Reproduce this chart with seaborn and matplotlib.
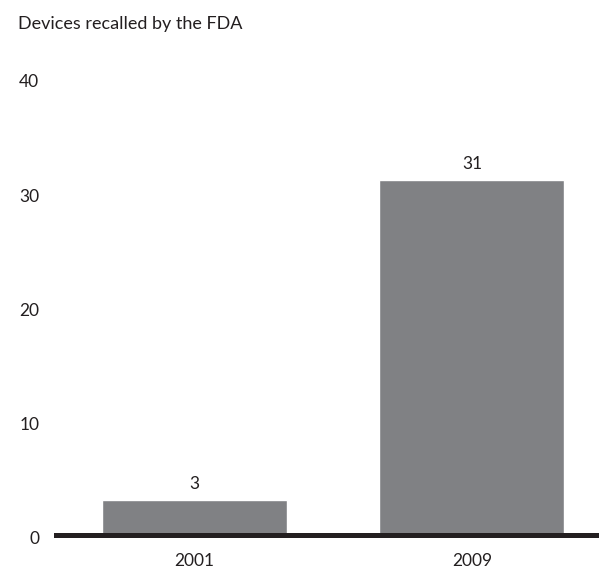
import matplotlib
matplotlib.use("Agg")
import matplotlib.pyplot as plt
import matplotlib.transforms as mtransforms
import seaborn as sns
import pandas as pd

years = ["2001", "2009"]
recalls = [3, 31]
y_ticks = [0, 10, 20, 30, 40]
title = "Devices recalled by the FDA"

bar_color = "#808184"
ink = "#231f20"

sns.set_theme(style="white")
plt.rcParams["font.family"] = ["Lato", "DejaVu Sans"]

df = pd.DataFrame({"year": years, "recalls": recalls})

fig = plt.figure(figsize=(5.99, 5.71), dpi=100)
ax = fig.add_axes([56 / 599, (571 - 534.5) / 571, 1 - 56 / 599, (534.5 - 77.5) / 571])

sns.barplot(data=df, x="year", y="recalls", color=bar_color, width=0.667,
            saturation=1, ax=ax, zorder=2)

ax.set_xlim(-0.499, 1.458)
ax.set_ylim(0, 40)
ax.set_yticks(y_ticks)
ax.set_yticklabels([str(t) for t in y_ticks])
ax.set_xlabel("")
ax.set_ylabel("")

for side in ["left", "right", "top"]:
    ax.spines[side].set_visible(False)
ax.spines["bottom"].set_color(ink)
ax.spines["bottom"].set_linewidth(3.6)
ax.spines["bottom"].set_zorder(3)

ax.tick_params(axis="y", length=0, pad=12, labelsize=12.5, labelcolor=ink)
ax.tick_params(axis="x", length=0, pad=13, labelsize=12.5, labelcolor=ink)

# nudge the value axis labels slightly below their gridline positions
shift = mtransforms.ScaledTranslation(0, -2.5 / 72, fig.dpi_scale_trans)
for lbl in ax.get_yticklabels():
    lbl.set_transform(lbl.get_transform() + shift)

ax.bar_label(ax.containers[0], labels=[str(v) for v in recalls],
             padding=6, fontsize=12.5, color=ink)

fig.text(18 / 599, 1 - 24 / 571, title, fontsize=13, color=ink,
         ha="left", va="center")

fig.savefig("out.png", dpi=100)
